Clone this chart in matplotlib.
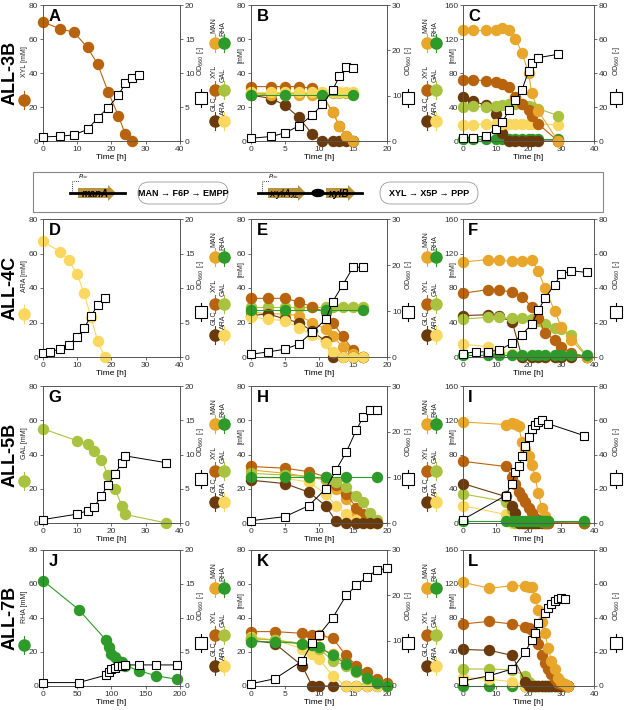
import matplotlib
matplotlib.use("Agg")
import matplotlib.pyplot as plt
from matplotlib.patches import FancyBboxPatch, Rectangle, FancyArrow, Ellipse

plt.rcParams['font.family'] = ['Liberation Sans', 'DejaVu Sans']

COL = {'GLC': '#6B3A0C', 'XYL': '#B8640F', 'MAN': '#E8A62A',
       'GAL': '#A9C23F', 'ARA': '#FAD75E', 'RHA': '#2E9A2A'}

# ---------------- data ----------------
A_t = [0, 5, 9, 13, 16, 19, 22, 24, 26]
A_XYL = [70, 66, 64, 55, 45, 29, 15, 4, 0]
A_od_t = [0, 5, 9, 13, 16, 19, 22, 24, 26, 28]
A_od = [0.6, 0.7, 0.9, 1.7, 3.4, 4.9, 6.7, 8.5, 9.2, 9.7]

B_t = [0, 3, 5, 7, 9, 10.5, 12, 13, 14, 15]
B_GLC = [27, 25, 21, 14, 4, 0, 0, 0, 0, 0]
B_XYL = [32, 32, 32, 32, 31, 27, 17, 9, 3, 0]
B_MAN = [28, 27, 27, 27, 27, 27, 17, 9, 3, 0]
B_GAL = [28, 28, 28, 28, 28, 28, 28, 28, 28, 28]
B_ARA = [29, 29, 29, 29, 29, 29, 29, 29, 29, 29]
B_RHA_t = [0, 5, 10.5, 15]
B_RHA = [27, 27, 27, 27]
B_od = [0.6, 1.0, 1.8, 3.3, 5.7, 8.1, 11.2, 14.3, 16.3, 16.0]

C_t = [0, 3, 7, 10, 12, 14, 16, 18, 20, 21, 23, 29]
C_MAN = [130, 130, 130, 131, 133, 131, 120, 104, 80, 56, 35, 0]
C_XYL = [72, 72, 71, 69, 67, 64, 52, 43, 37, 29, 20, 0]
C_GLC = [52, 47, 42, 32, 10, 0, 0, 0, 0, 0, 0, 0]
C_GAL = [40, 41, 40, 41, 42, 43, 44, 43, 41, 40, 38, 30]
C_ARA = [19, 19, 20, 20, 20, 20, 20, 20, 20, 20, 20, 19]
C_RHA = [2, 2, 2, 2, 2, 2, 2, 2, 2, 2, 2, 2]
C_od = [1.5, 2, 3, 7, 11, 18, 24, 30, 41, 46, 49, 51]

D_t = [0, 5, 7.5, 10, 12, 14, 16, 18]
D_ARA = [67, 61, 56, 48, 37, 23, 9, 0]
D_od_t = [0, 2, 5, 7.5, 10, 12, 14, 16, 18]
D_od = [0.6, 0.7, 1.2, 1.8, 2.9, 4.2, 5.9, 7.6, 8.6]

E_t = [0, 2.5, 5, 7, 9, 11, 12, 13.5, 15, 16.5]
E_XYL = [34, 34, 34, 32, 29, 26, 20, 12, 4, 0]
E_MAN = [26, 25, 25, 24, 20, 16, 12, 6, 2, 0]
E_GLC = [24, 25, 22, 20, 15, 9, 0, 0, 0, 0]
E_ARA = [23, 22, 21, 17, 13, 8, 3, 0, 0, 0]
E_GAL = [29, 29, 29, 29, 29, 29, 29, 29, 29, 29]
E_RHA_t = [0, 5, 11, 16.5]
E_RHA = [27, 27, 27, 27]
E_od = [0.6, 1.1, 1.7, 2.8, 5.4, 8.2, 12, 15.7, 19.5, 19.5]

F_t = [0, 7.5, 11, 15, 18, 21, 23, 25, 28, 30, 33, 38]
F_MAN = [110, 113, 112, 111, 111, 112, 100, 80, 53, 35, 20, 0]
F_XYL = [74, 78, 78, 75, 70, 58, 45, 28, 20, 12, 5, 0]
F_GLC = [48, 49, 47, 41, 0, 0, 0, 0, 0, 0, 0, 0]
F_GAL = [44, 46, 46, 45, 45, 44, 42, 38, 34, 32, 25, 0]
F_ARA = [15, 12, 7, 3, 0, 0, 0, 0, 0, 0, 0, 0]
F_RHA = [2, 2, 2, 2, 2, 2, 2, 2, 2, 2, 2, 2]
F_od_t = [0, 4, 7.5, 11, 15, 18, 21, 23, 25, 28, 30, 33, 38]
F_od = [2, 3, 3, 4, 8, 13, 19, 27, 34, 42, 48, 50, 49]

G_t = [0, 10, 13, 15, 17, 19, 21, 23, 24, 36]
G_GAL = [55, 48, 46, 42, 37, 28, 20, 10, 5, 0]
G_od = [0.5, 1.3, 1.8, 2.4, 3.9, 5.6, 7.1, 8.8, 9.8, 8.8]

H_t = [0, 5, 8.5, 11, 12.5, 14, 15.5, 16.5, 17.5, 18.5]
H_XYL = [33, 32, 30, 27, 22, 17, 9, 5, 2, 0]
H_GLC = [25, 23, 18, 10, 1, 0, 0, 0, 0, 0]
H_MAN = [31, 29, 27, 25, 20, 14, 6, 2, 0, 0]
H_GAL = [29, 28, 27, 26, 24, 21, 16, 12, 6, 2]
H_ARA = [27, 26, 24, 17, 10, 5, 2, 0, 0, 0]
H_RHA_t = [0, 5, 8.5, 11, 14, 18.5]
H_RHA = [27, 27, 27, 27, 27, 27]
H_od = [0.5, 1.4, 3.8, 7.5, 11.6, 15.5, 20.4, 23.2, 24.8, 24.8]

I_t = [0, 13, 15, 16, 17, 18, 19, 20, 21, 22, 23, 24, 25, 26, 37]
I_MAN = [118, 115, 117, 116, 113, 95, 86, 78, 68, 54, 35, 18, 8, 2, 0]
I_XYL = [72, 66, 54, 45, 36, 30, 24, 18, 12, 6, 3, 1, 0, 0, 0]
I_GLC = [46, 31, 20, 12, 0, 0, 0, 0, 0, 0, 0, 0, 0, 0, 0]
I_GAL = [34, 25, 15, 0, 0, 0, 0, 0, 0, 0, 0, 0, 0, 0, 0]
I_ARA = [20, 10, 0, 0, 0, 0, 0, 0, 0, 0, 0, 0, 0, 0, 0]
I_RHA = [2, 2, 2, 2, 2, 2, 2, 2, 2, 2, 2, 2, 2, 2, 2]
I_od_t = [0, 13, 15, 16, 17, 18, 19, 20, 21, 22, 23, 24, 26, 37]
I_od = [2, 16, 23, 30, 33, 39, 45, 50, 55, 57, 59, 60, 58, 51]

J_t = [0, 52, 92, 97, 100, 105, 110, 115, 120, 140, 165, 195]
J_RHA = [62, 45, 27, 23, 19, 17, 15, 14, 12, 9, 6, 4]
J_od = [0.5, 0.5, 1.6, 2.1, 2.5, 2.7, 2.9, 3.0, 3.1, 3.1, 3.1, 3.1]

K_t = [0, 3.5, 7.5, 9, 10, 12, 14, 15.5, 17, 18.5, 20]
K_XYL = [32, 32, 31, 30, 30, 28, 18, 12, 8, 4, 2]
K_GLC = [27, 25, 12, 0, 0, 0, 0, 0, 0, 0, 0]
K_MAN = [28, 27, 25, 24, 22, 19, 14, 9, 5, 2, 0]
K_GAL = [28, 27, 25, 24, 22, 15, 12, 8, 4, 2, 0]
K_ARA = [29, 27, 22, 19, 16, 6, 0, 0, 0, 0, 0]
K_RHA = [26, 26, 25, 24, 23, 18, 13, 9, 5, 2, 0]
K_od = [0.5, 1.6, 5.5, 9.5, 11.3, 15, 20, 22.2, 24, 25.5, 26]

L_t = [0, 8, 15, 19, 20, 21, 22, 23, 24, 25, 26, 27, 28, 29, 30, 31, 32]
L_MAN = [122, 115, 118, 118, 117, 117, 104, 90, 75, 62, 45, 30, 20, 10, 5, 2, 0]
L_XYL = [73, 76, 73, 69, 68, 66, 56, 49, 37, 27, 20, 14, 8, 4, 2, 0, 0]
L_GLC = [43, 42, 36, 5, 0, 0, 0, 0, 0, 0, 0, 0, 0, 0, 0, 0, 0]
L_GAL = [20, 20, 19, 12, 5, 0, 0, 0, 0, 0, 0, 0, 0, 0, 0, 0, 0]
L_ARA = [10, 8, 5, 0, 0, 0, 0, 0, 0, 0, 0, 0, 0, 0, 0, 0, 0]
L_RHA = [0, 0, 0, 0, 0, 0, 0, 0, 0, 0, 0, 0, 0, 0, 0, 0, 0]
L_od_t = [0, 8, 15, 19, 21, 22, 23, 25, 26, 27, 28, 29, 30, 31]
L_od = [3, 6, 10, 20, 27, 31, 37, 43, 46, 48, 50, 51, 52, 51]

row_labels = ['ALL-3B', 'ALL-4C', 'ALL-5B', 'ALL-7B']

# ---------------- layout ----------------
W, H = 624, 710
fig = plt.figure(figsize=(W / 100, H / 100), dpi=100)

def fx(x): return x / W
def fy(y): return 1 - y / H

cols = [(43, 180), (251, 387), (463, 594)]
rows = [(5, 141), (219, 357), (386, 523), (550, 686)]
od_off = [21, 21, 22]

panels = [
    ('A', [('XYL', A_t, A_XYL)], A_od_t, A_od),
    ('B', [('GLC', B_t, B_GLC), ('XYL', B_t, B_XYL), ('GAL', B_t, B_GAL), ('MAN', B_t, B_MAN),
           ('ARA', B_t, B_ARA), ('RHA', B_RHA_t, B_RHA)], B_t, B_od),
    ('C', [('RHA', C_t, C_RHA), ('GLC', C_t, C_GLC), ('ARA', C_t, C_ARA), ('GAL', C_t, C_GAL),
           ('XYL', C_t, C_XYL), ('MAN', C_t, C_MAN)], C_t, C_od),
    ('D', [('ARA', D_t, D_ARA)], D_od_t, D_od),
    ('E', [('GAL', E_t, E_GAL), ('XYL', E_t, E_XYL), ('MAN', E_t, E_MAN), ('GLC', E_t, E_GLC),
           ('ARA', E_t, E_ARA), ('RHA', E_RHA_t, E_RHA)], E_t, E_od),
    ('F', [('ARA', F_t, F_ARA), ('GLC', F_t, F_GLC), ('GAL', F_t, F_GAL), ('XYL', F_t, F_XYL),
           ('MAN', F_t, F_MAN), ('RHA', F_t, F_RHA)], F_od_t, F_od),
    ('G', [('GAL', G_t, G_GAL)], G_t, G_od),
    ('H', [('MAN', H_t, H_MAN), ('XYL', H_t, H_XYL), ('GAL', H_t, H_GAL), ('ARA', H_t, H_ARA),
           ('GLC', H_t, H_GLC), ('RHA', H_RHA_t, H_RHA)], H_t, H_od),
    ('I', [('ARA', I_t, I_ARA), ('GAL', I_t, I_GAL), ('GLC', I_t, I_GLC), ('MAN', I_t, I_MAN),
           ('XYL', I_t, I_XYL), ('RHA', I_t, I_RHA)], I_od_t, I_od),
    ('J', [('RHA', J_t, J_RHA)], J_t, J_od),
    ('K', [('MAN', K_t, K_MAN), ('XYL', K_t, K_XYL), ('GLC', K_t, K_GLC), ('ARA', K_t, K_ARA),
           ('GAL', K_t, K_GAL), ('RHA', K_t, K_RHA)], K_t, K_od),
    ('L', [('RHA', L_t, L_RHA), ('ARA', L_t, L_ARA), ('GAL', L_t, L_GAL), ('GLC', L_t, L_GLC),
           ('XYL', L_t, L_XYL), ('MAN', L_t, L_MAN)], L_od_t, L_od),
]

ov = fig.add_axes([0, 0, 1, 1], zorder=10)
ov.set_xlim(0, W); ov.set_ylim(H, 0); ov.axis('off')

def vsym(x, y, color, square=False):
    ov.plot([x, x], [y - 9, y + 9], color=color, lw=0.8)
    if square:
        ov.plot(x, y, 's', ms=8, mfc='white', mec='black', mew=0.8)
    else:
        ov.plot(x, y, 'o', ms=8, color=color)

def vtext(x, y, s, size=5.5):
    ov.text(x, y, s, rotation=90, ha='center', va='center', fontsize=size, color='#222222')

for idx, (letter, series, od_t, od) in enumerate(panels):
    r, c = divmod(idx, 3)
    x0, x1 = cols[c]; y0, y1 = rows[r]
    ax = fig.add_axes([fx(x0), fy(y1), fx(x1) - fx(x0), fy(y0) - fy(y1)])
    ax2 = ax.twinx()
    for name, t, v in series:
        ax.plot(t, v, '-o', color=COL[name], lw=0.8, ms=7.2, zorder=3, clip_on=False)
    ax2.plot(od_t, od, '-s', color='black', lw=0.7, ms=6.3, mfc='white', mec='black',
             mew=0.8, zorder=5, clip_on=False)
    if c == 2:
        ax.set_ylim(0, 160); ax.set_yticks(range(0, 161, 40))
        ax2.set_ylim(0, 80); ax2.set_yticks(range(0, 81, 20))
    elif c == 1:
        ax.set_ylim(0, 80); ax.set_yticks(range(0, 81, 20))
        ax2.set_ylim(0, 30); ax2.set_yticks(range(0, 31, 10))
    else:
        ax.set_ylim(0, 80); ax.set_yticks(range(0, 81, 20))
        ax2.set_ylim(0, 20); ax2.set_yticks(range(0, 21, 5))
    if letter == 'J':
        ax.set_xlim(0, 200); ax.set_xticks(range(0, 201, 50))
    elif c == 1:
        ax.set_xlim(0, 20); ax.set_xticks(range(0, 21, 5))
    else:
        ax.set_xlim(0, 40); ax.set_xticks(range(0, 41, 10))
    for a in (ax, ax2):
        a.tick_params(labelsize=6, length=2, width=0.5, pad=1.5, colors='#333333')
        for s in a.spines.values():
            s.set_linewidth(0.6); s.set_color('#555555')
    ax.set_xlabel('Time [h]', fontsize=6, labelpad=1)
    ax2.text(0.04, 0.97, letter, transform=ax.transAxes, fontsize=12, fontweight='bold',
             va='top', ha='left')
    xo = x1 + od_off[c]
    vsym(xo, y0 + 93, 'black', square=True)
    vtext(xo, y0 + 56, 'OD$_{660}$ [-]', size=5)
    if c == 0:
        name = series[0][0]
        vsym(x0 - 19, y0 + 95, COL[name])
        vtext(x0 - 19, y0 + 57, name + ' [mM]', size=5)
        ov.text(10, (y0 + y1) / 2, row_labels[r], rotation=90, ha='center', va='center',
                fontsize=13, fontweight='bold')
    else:
        vtext(x0 - 10, y0 + 50, '[mM]', size=5)
        xa, xb = x0 - 36, x0 - 27
        for (na, nb, my, ty) in [('MAN', 'RHA', 38, 20), ('XYL', 'GAL', 85, 66), ('GLC', 'ARA', 116, 99)]:
            vsym(xa, y0 + my, COL[na])
            vsym(xb, y0 + my, COL[nb])
            vtext(xa - 1, y0 + ty, na, size=5)
            vtext(xb - 1, y0 + ty + 4, nb, size=5)

# ---------------- schematic ----------------
ov.add_patch(Rectangle((33, 172), 570, 40, fill=False, ec='#888888', lw=0.8))
gold = '#B8923C'
ov.plot([70, 125], [193, 193], color='black', lw=2)
ov.plot([72, 72, 80], [193, 181, 181], color='black', lw=0.6, ls=':')
ov.text(78, 178, '$P_{tic}$', fontsize=4.5)
ov.add_patch(FancyArrow(78, 193, 38, 0, width=10, head_width=16, head_length=8,
                        length_includes_head=True, color=gold, lw=0))
ov.text(95, 194, 'manA', fontsize=7, fontstyle='italic', fontweight='bold', ha='center', va='center')
ov.add_patch(FancyBboxPatch((138, 182), 90, 22, boxstyle='round,pad=0,rounding_size=11',
                            fc='white', ec='#999999', lw=0.6))
ov.text(183, 193, 'MAN → F6P → EMPP', fontsize=6.5, fontweight='bold', ha='center', va='center')
ov.plot([258, 362], [193, 193], color='black', lw=2)
ov.plot([262, 262, 270], [193, 181, 181], color='black', lw=0.6, ls=':')
ov.text(268, 178, '$P_{tic}$', fontsize=4.5)
ov.add_patch(FancyArrow(268, 193, 38, 0, width=10, head_width=16, head_length=8,
                        length_includes_head=True, color=gold, lw=0))
ov.text(285, 194, '$\\mathbf{\\mathit{xylA_{Xc}}}$', fontsize=7, ha='center', va='center')
ov.add_patch(Ellipse((318, 193), 12, 7, color='black'))
ov.add_patch(FancyArrow(326, 193, 30, 0, width=10, head_width=16, head_length=8,
                        length_includes_head=True, color=gold, lw=0))
ov.text(339, 194, 'xylB', fontsize=7, fontstyle='italic', fontweight='bold', ha='center', va='center')
ov.add_patch(FancyBboxPatch((380, 182), 98, 22, boxstyle='round,pad=0,rounding_size=11',
                            fc='white', ec='#999999', lw=0.6))
ov.text(429, 193, 'XYL → X5P → PPP', fontsize=6.5, fontweight='bold', ha='center', va='center')

fig.savefig('out.png', dpi=100)
